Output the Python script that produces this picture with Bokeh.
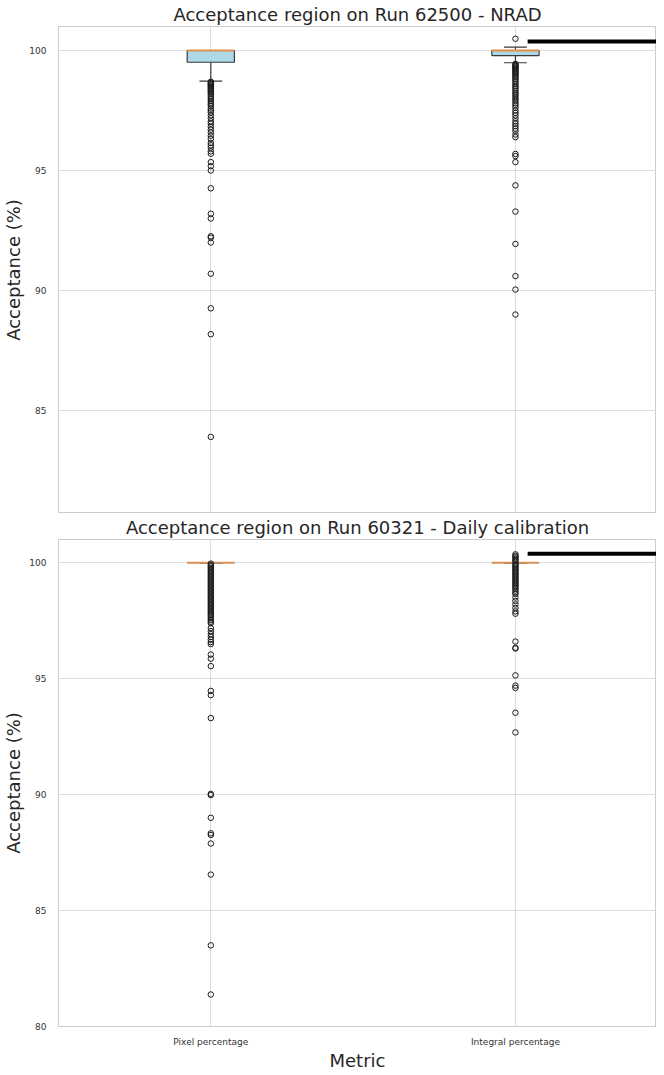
from bokeh.plotting import figure
from bokeh.layouts import column
from bokeh.models import FixedTicker, Range1d
from bokeh.embed import file_html
from bokeh.resources import INLINE

# ---------------- data ----------------
categories = ["Pixel percentage", "Integral percentage"]
positions = [1, 2]
y_ticks = [80, 85, 90, 95, 100]

title_top = "Acceptance region on Run 62500 - NRAD"
title_bottom = "Acceptance region on Run 60321 - Daily calibration"

# top panel (Run 62500 - NRAD) box statistics
top_q1 = [99.51, 99.79]
top_median = [100.0, 100.0]
top_q3 = [100.0, 100.0]
top_whisker_low = [98.72, 99.49]
top_whisker_high = [100.0, 100.14]

top_pixel_outliers = [
    98.70, 98.66, 98.62, 98.58, 98.54, 98.50, 98.45, 98.40, 98.35, 98.30,
    98.25, 98.20, 98.12, 98.05, 97.98, 97.90, 97.82, 97.75, 97.68, 97.58,
    97.50, 97.42, 97.30, 97.18, 97.05, 96.95, 96.82, 96.70, 96.58, 96.45,
    96.32, 96.15, 96.05, 95.95, 95.80, 95.70,
    95.35, 95.18, 95.00, 94.26, 93.20, 93.00, 92.26, 92.20, 92.00,
    90.70, 89.26, 88.18, 83.90,
]
top_integral_outliers = [
    100.49,
    99.44, 99.40, 99.36, 99.32, 99.28, 99.24, 99.20, 99.15, 99.10, 99.05,
    99.00, 98.94, 98.88, 98.82, 98.75, 98.68, 98.60, 98.52, 98.45, 98.38,
    98.30, 98.22, 98.15, 98.06, 97.98, 97.90, 97.80, 97.72, 97.62, 97.50,
    97.40, 97.30, 97.18, 97.05, 96.95, 96.85, 96.75, 96.65, 96.50, 96.39,
    95.69, 95.60, 95.35, 94.38, 93.29, 91.94, 90.60, 90.04, 89.00,
]

# bottom panel (Run 60321 - Daily calibration) box statistics
bot_q1 = [100.0, 100.0]
bot_median = [100.0, 100.0]
bot_q3 = [100.0, 100.0]
bot_whisker_low = [100.0, 100.0]
bot_whisker_high = [100.0, 100.0]

bot_pixel_outliers = [
    99.96, 99.90, 99.84, 99.78, 99.72, 99.66, 99.60, 99.54, 99.48, 99.42,
    99.36, 99.30, 99.24, 99.18, 99.12, 99.06, 99.00, 98.94, 98.88, 98.82,
    98.76, 98.70, 98.64, 98.58, 98.52, 98.46, 98.40, 98.34, 98.28, 98.22,
    98.16, 98.10, 98.04, 97.98, 97.92, 97.86, 97.80, 97.74, 97.68, 97.60,
    97.52, 97.45, 97.39,
    97.18, 97.05, 96.92, 96.80, 96.68, 96.58, 96.49,
    96.04, 95.86, 95.54, 94.47, 94.29, 93.30,
    90.03, 89.98, 89.00, 88.33, 88.26, 87.89, 86.55, 83.50, 81.38,
]
bot_integral_outliers = [
    100.36, 100.30, 100.24, 100.18, 100.12, 100.06,
    99.96, 99.90, 99.84, 99.78, 99.72, 99.66, 99.60, 99.54, 99.48, 99.42,
    99.36, 99.30, 99.24, 99.18, 99.12, 99.06, 99.00, 98.94, 98.88, 98.80,
    98.72, 98.65, 98.50, 98.35, 98.20, 98.05, 97.90, 97.80,
    96.60, 96.33, 96.30, 95.14, 94.70, 94.60, 93.53, 92.68,
]

# thick black line at the top right of each panel
top_line_y = 100.37
bot_line_y = 100.39
line_x_start = 2.04

# ---------------- style ----------------
FONT = "DejaVu Sans"
TEXT = "#262626"
GRID = "#dcdcdc"
SPINE = "#cccccc"
BOX_FILL = "#add8e6"
BOX_EDGE = "#3a3a3a"
MEDIAN = "#e0904c"
BOX_W = 0.155
CAP_W = 0.075
X_END = 2.463


def make_panel(title, q1, med, q3, wlo, whi, out_pix, out_int, line_y,
               y_start, height, show_x):
    p = figure(
        width=656, height=height,
        x_range=Range1d(0.5, X_END), y_range=Range1d(y_start, 101.0),
        output_backend="svg", toolbar_location=None,
        x_axis_location="below" if show_x else None,
        min_border=0, min_border_left=0, min_border_right=0,
        min_border_top=0, min_border_bottom=0,
    )
    p.title.text = title
    p.title.text_font = FONT
    p.title.text_font_size = "18px"
    p.title.text_font_style = "normal"
    p.title.text_color = TEXT
    p.title.align = "center"
    p.title.standoff = 3

    p.outline_line_color = SPINE
    p.background_fill_color = "white"
    p.border_fill_color = "white"

    # y axis
    p.yaxis.ticker = FixedTicker(ticks=y_ticks)
    p.yaxis.axis_label = "Acceptance (%)"
    p.yaxis.axis_label_text_font = FONT
    p.yaxis.axis_label_text_font_size = "18px"
    p.yaxis.axis_label_text_font_style = "normal"
    p.yaxis.axis_label_text_color = TEXT
    p.yaxis.axis_label_standoff = 2
    p.yaxis.major_label_text_font = FONT
    p.yaxis.major_label_text_font_size = "9px"
    p.yaxis.major_label_text_color = "#333333"
    p.yaxis.major_label_standoff = 6
    p.yaxis.major_tick_line_color = None
    p.yaxis.minor_tick_line_color = None
    p.yaxis.axis_line_color = SPINE

    p.ygrid.grid_line_color = GRID
    p.ygrid.grid_line_width = 1

    p.xgrid.ticker = FixedTicker(ticks=positions)
    p.xgrid.grid_line_color = GRID
    p.xgrid.grid_line_width = 1
    if show_x:
        p.xaxis.ticker = FixedTicker(ticks=positions)
        p.xaxis.major_label_overrides = {positions[i]: categories[i] for i in range(len(categories))}
        p.xaxis.axis_label = "Metric"
        p.xaxis.axis_label_text_font = FONT
        p.xaxis.axis_label_text_font_size = "18px"
        p.xaxis.axis_label_text_font_style = "normal"
        p.xaxis.axis_label_text_color = TEXT
        p.xaxis.axis_label_standoff = 0
        p.xaxis.major_label_text_font = FONT
        p.xaxis.major_label_text_font_size = "9px"
        p.xaxis.major_label_text_color = "#333333"
        p.xaxis.major_label_standoff = 4
        p.xaxis.major_tick_line_color = None
        p.xaxis.minor_tick_line_color = None
        p.xaxis.axis_line_color = SPINE

    # whiskers
    p.segment(x0=positions, y0=q3, x1=positions, y1=whi, line_color=BOX_EDGE, line_width=1.2)
    p.segment(x0=positions, y0=q1, x1=positions, y1=wlo, line_color=BOX_EDGE, line_width=1.2)
    # caps
    p.segment(x0=[x - CAP_W / 2 for x in positions], y0=whi,
              x1=[x + CAP_W / 2 for x in positions], y1=whi,
              line_color=BOX_EDGE, line_width=1.2)
    p.segment(x0=[x - CAP_W / 2 for x in positions], y0=wlo,
              x1=[x + CAP_W / 2 for x in positions], y1=wlo,
              line_color=BOX_EDGE, line_width=1.2)
    # boxes
    p.vbar(x=positions, width=BOX_W, bottom=q1, top=q3,
           fill_color=BOX_FILL, line_color=BOX_EDGE, line_width=1.2)
    # medians
    p.segment(x0=[x - BOX_W / 2 for x in positions], y0=med,
              x1=[x + BOX_W / 2 for x in positions], y1=med,
              line_color=MEDIAN, line_width=1.8)
    # outliers
    p.scatter(x=[positions[0]] * len(out_pix), y=out_pix, marker="circle", size=5.5,
              fill_color=None, line_color="#1a1a1a", line_width=1)
    p.scatter(x=[positions[1]] * len(out_int), y=out_int, marker="circle", size=5.5,
              fill_color=None, line_color="#1a1a1a", line_width=1)
    # thick black line
    p.segment(x0=[line_x_start], y0=[line_y], x1=[X_END], y1=[line_y],
              line_color="black", line_width=4)
    return p


p_top = make_panel(title_top, top_q1, top_median, top_q3, top_whisker_low,
                   top_whisker_high, top_pixel_outliers, top_integral_outliers,
                   top_line_y, 80.71, 513, False)
p_bot = make_panel(title_bottom, bot_q1, bot_median, bot_q3, bot_whisker_low,
                   bot_whisker_high, bot_pixel_outliers, bot_integral_outliers,
                   bot_line_y, 80.0, 560, True)

layout = column(p_top, p_bot, spacing=0)

with open("out.html", "w") as f:
    f.write(file_html(layout, INLINE))
